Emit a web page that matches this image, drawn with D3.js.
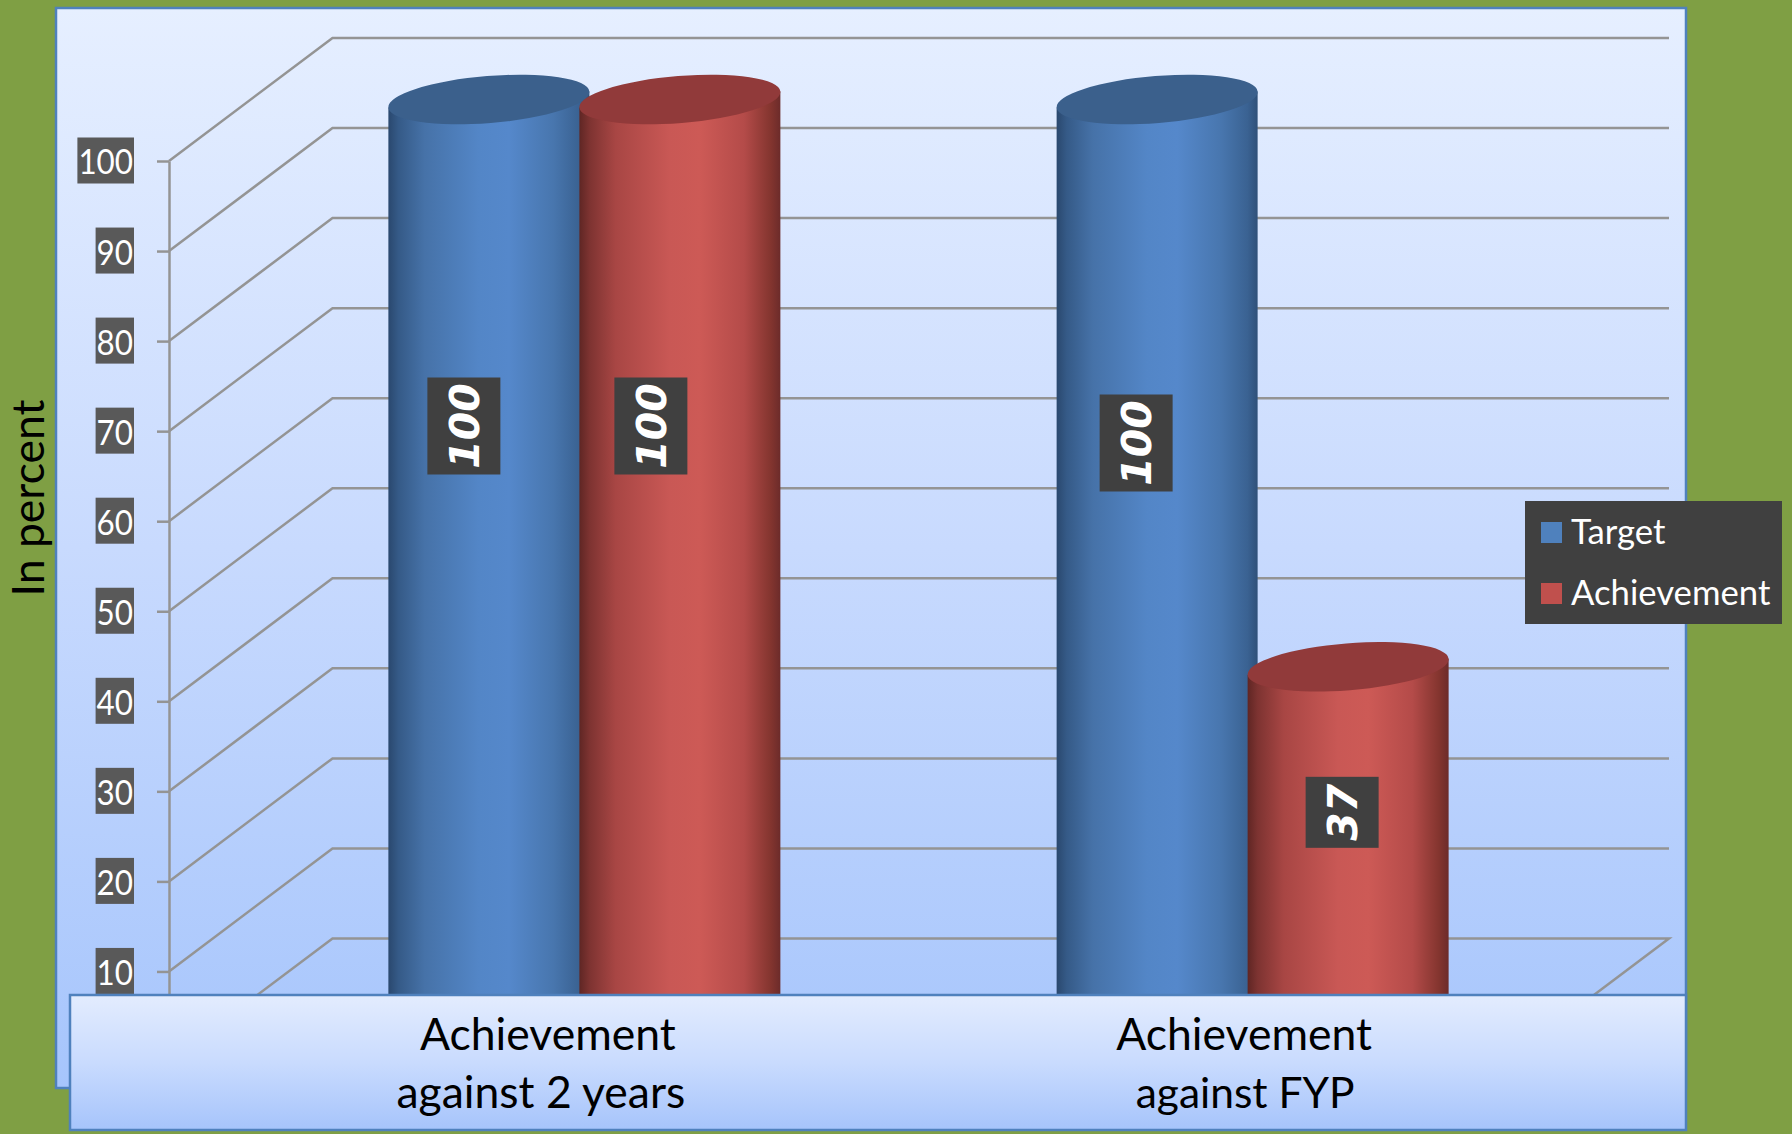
<!DOCTYPE html>
<html>
<head>
<meta charset="utf-8">
<script src="https://cdn.jsdelivr.net/npm/d3@7"></script>
<style>
  html, body { margin: 0; padding: 0; background: #7f9f44; }
  svg { display: block; }
  text { font-family: Lato, "Open Sans", sans-serif; }
</style>
</head>
<body>
<div id="chart"></div>
<script>
// chart values
var categories = ["Achievement against 2 years", "Achievement against FYP"];
var categoryLines = [["Achievement", "against 2 years"], ["Achievement", "against FYP"]];
var seriesNames = ["Target", "Achievement"];
var targetValues = [100, 100];
var achievementValues = [100, 37];
var yTicks = [0, 10, 20, 30, 40, 50, 60, 70, 80, 90, 100];

var width = 1792, height = 1134;

// 3d box of the chart: front edge of the floor/wall and how far back it goes
var depthX = 163.5, depthY = 123;
var frontLeft = 169, frontRight = 1505.5;

var svg = d3.select("#chart").append("svg")
  .attr("width", width)
  .attr("height", height);

var defs = svg.append("defs");

function addGradient(id, horizontal, stops) {
  var g = defs.append("linearGradient")
    .attr("id", id)
    .attr("x1", 0).attr("y1", 0)
    .attr("x2", horizontal ? 1 : 0).attr("y2", horizontal ? 0 : 1);
  stops.forEach(function (s) {
    g.append("stop").attr("offset", s[0]).attr("stop-color", s[1]);
  });
}

addGradient("panelFill", false, [[0, "#e6efff"], [0.5, "#c8dafe"], [1, "#a6c5fc"]]);
addGradient("boxFill", false, [[0, "#e3ecfe"], [0.5, "#c9dbfe"], [1, "#a6c4fb"]]);
addGradient("cyl0", true, [[0, "#2a486e"], [0.05, "#355a87"], [0.18, "#4672a8"], [0.45, "#5386c7"], [0.6, "#5588cb"], [0.82, "#4876ae"], [0.95, "#3a6292"], [1, "#2f5079"]]);
addGradient("cyl1", true, [[0, "#5f2624"], [0.05, "#7d3331"], [0.18, "#a84644"], [0.45, "#c95855"], [0.6, "#cd5a56"], [0.82, "#b44b49"], [0.95, "#84352f"], [1, "#6c2b2a"]]);

var topColors = ["#3b608c", "#913a3a"];
var legendColors = ["#4f81bd", "#c0504d"];

// scales
var y = d3.scaleLinear().domain([0, 100]).range([1061.5, 161]);
// bars sit half way into the depth of the box
var x0 = d3.scaleBand().domain(categories)
  .range([frontLeft + depthX / 2, frontRight + depthX / 2]);
var x1 = d3.scalePoint().domain(seriesNames).range([-96, 95]);
var barWidth = 201;

// background panel
svg.append("rect")
  .attr("x", 56).attr("y", 8)
  .attr("width", 1630).attr("height", 1080)
  .attr("fill", "url(#panelFill)")
  .attr("stroke", "#4f81bd").attr("stroke-width", 2.5);

// grid, running along the left wall and then the back wall
var grid = svg.append("g").attr("fill", "none").attr("stroke", "#949494");
grid.selectAll("path").data(yTicks).enter().append("path")
  .attr("stroke-width", 2.5)
  .attr("d", function (d) {
    var p = d3.path();
    p.moveTo(frontLeft, y(d));
    p.lineTo(frontLeft + depthX, y(d) - depthY);
    p.lineTo(frontRight + depthX, y(d) - depthY);
    if (d === 0) p.lineTo(frontRight, y(d));
    return p.toString();
  });

// value axis
var axis = svg.append("g")
  .attr("transform", "translate(" + frontLeft + ",0)")
  .call(d3.axisLeft(y).tickValues(yTicks).tickSize(12).tickPadding(36).tickSizeOuter(0));
axis.select(".domain").attr("stroke", "#949494").attr("stroke-width", 2.5);
axis.selectAll(".tick line").attr("stroke", "#949494").attr("stroke-width", 2.5);
axis.selectAll(".tick text")
  .attr("x", -36)
  .attr("dy", "0.37em")
  .attr("fill", "#ffffff")
  .attr("font-size", 35)
  .attr("lengthAdjust", "spacingAndGlyphs")
  .attr("textLength", function (d) { return String(d).length * 18.2; })
  .style("font-family", "Lato");
axis.selectAll(".tick").each(function (d) {
  var w = String(d).length * 18.2;
  d3.select(this).insert("rect", "text")
    .attr("x", -36 - w - 1).attr("y", -24)
    .attr("width", w + 2).attr("height", 46)
    .attr("fill", "#595959");
});

// axis title
svg.append("text")
  .attr("transform", "translate(44,498) rotate(-90)")
  .attr("text-anchor", "middle")
  .attr("fill", "#000000")
  .attr("font-size", 44.5)
  .text("In percent");

// cylinders
var barData = [];
seriesNames.forEach(function (name, si) {
  var vals = si === 0 ? targetValues : achievementValues;
  categories.forEach(function (cat, ci) {
    barData.push({ cat: cat, ci: ci, name: name, si: si, value: vals[ci] });
  });
});
// draw order: left to right so that each one overlaps the previous one
barData.sort(function (a, b) { return a.ci - b.ci || a.si - b.si; });

var tilt = 4.6, ry = 23.5;
var tiltRise = Math.tan(tilt * Math.PI / 180) * barWidth / 2;

function barCenter(d) { return x0(d.cat) + x0.bandwidth() / 2 + x1(d.name); }
function barTop(d) { return y(d.value) - depthY / 2; }

var bars = svg.append("g").selectAll("g").data(barData).enter().append("g");

bars.append("path")
  .attr("fill", function (d) { return "url(#cyl" + d.si + ")"; })
  .attr("d", function (d) {
    var cx = barCenter(d), cy = barTop(d), bottom = y(0) - depthY / 2;
    var p = d3.path();
    p.moveTo(cx - barWidth / 2, cy + tiltRise);
    p.lineTo(cx + barWidth / 2, cy - tiltRise);
    p.lineTo(cx + barWidth / 2, bottom);
    p.lineTo(cx - barWidth / 2, bottom);
    p.closePath();
    return p.toString();
  });

// top face of the cylinder
bars.append("ellipse")
  .attr("rx", barWidth / 2 / Math.cos(tilt * Math.PI / 180))
  .attr("ry", ry)
  .attr("fill", function (d) { return topColors[d.si]; })
  .attr("transform", function (d) {
    return "translate(" + barCenter(d) + "," + barTop(d) + ") rotate(" + (-tilt) + ")";
  });

// data labels, nudged off the bar the way they were dragged in the original
var labelNudge = [[-25, 265], [-29, 265], [-21, 282], [-6, 84]];
var labels = svg.append("g").selectAll("g").data(barData).enter().append("g")
  .attr("transform", function (d, i) {
    return "translate(" + (barCenter(d) + labelNudge[i][0]) + "," + (y(d.value) + labelNudge[i][1]) + ")";
  });
labels.append("rect")
  .attr("x", -36.5)
  .attr("y", function (d) { return d.value < 100 ? -35.5 : -48.5; })
  .attr("width", 73)
  .attr("height", function (d) { return d.value < 100 ? 71 : 97; })
  .attr("fill", "#404040");
labels.append("text")
  .attr("transform", "rotate(-90)")
  .attr("text-anchor", "middle")
  .attr("dy", "0.36em")
  .attr("fill", "#ffffff")
  .attr("font-size", 41)
  .attr("font-weight", "bold")
  .attr("font-style", "italic")
  .style("font-family", "DejaVu Sans")
  .text(function (d) { return d.value; });

// category label box
svg.append("rect")
  .attr("x", 70).attr("y", 995)
  .attr("width", 1616).attr("height", 135)
  .attr("fill", "url(#boxFill)")
  .attr("stroke", "#4f81bd").attr("stroke-width", 2.5);

var catNudge = [[-37, -44], [-9, -8]];
var catText = svg.append("g").selectAll("text").data(categories).enter().append("text")
  .attr("text-anchor", "middle")
  .attr("fill", "#000000")
  .attr("font-size", 44.5);
catText.each(function (cat, i) {
  var cx = x0(cat) + x0.bandwidth() / 2;
  d3.select(this).append("tspan")
    .attr("x", cx + catNudge[i][0]).attr("y", 1050)
    .text(categoryLines[i][0]);
  d3.select(this).append("tspan")
    .attr("x", cx + catNudge[i][1]).attr("y", 1108)
    .attr("font-size", i === 1 ? 42.5 : 44.5)
    .text(categoryLines[i][1]);
});

// legend
var legend = svg.append("g").attr("transform", "translate(1525,501)");
legend.append("rect")
  .attr("width", 257).attr("height", 123)
  .attr("fill", "#404040");
var legendItem = legend.selectAll("g").data(seriesNames).enter().append("g")
  .attr("transform", function (d, i) { return "translate(16," + (21 + i * 61) + ")"; });
legendItem.append("rect")
  .attr("width", 21).attr("height", 21)
  .attr("fill", function (d, i) { return legendColors[i]; });
legendItem.append("text")
  .attr("x", 30).attr("y", 10)
  .attr("dy", "0.35em")
  .attr("fill", "#ffffff")
  .attr("font-size", 34.7)
  .text(function (d) { return d; });
</script>
</body>
</html>
